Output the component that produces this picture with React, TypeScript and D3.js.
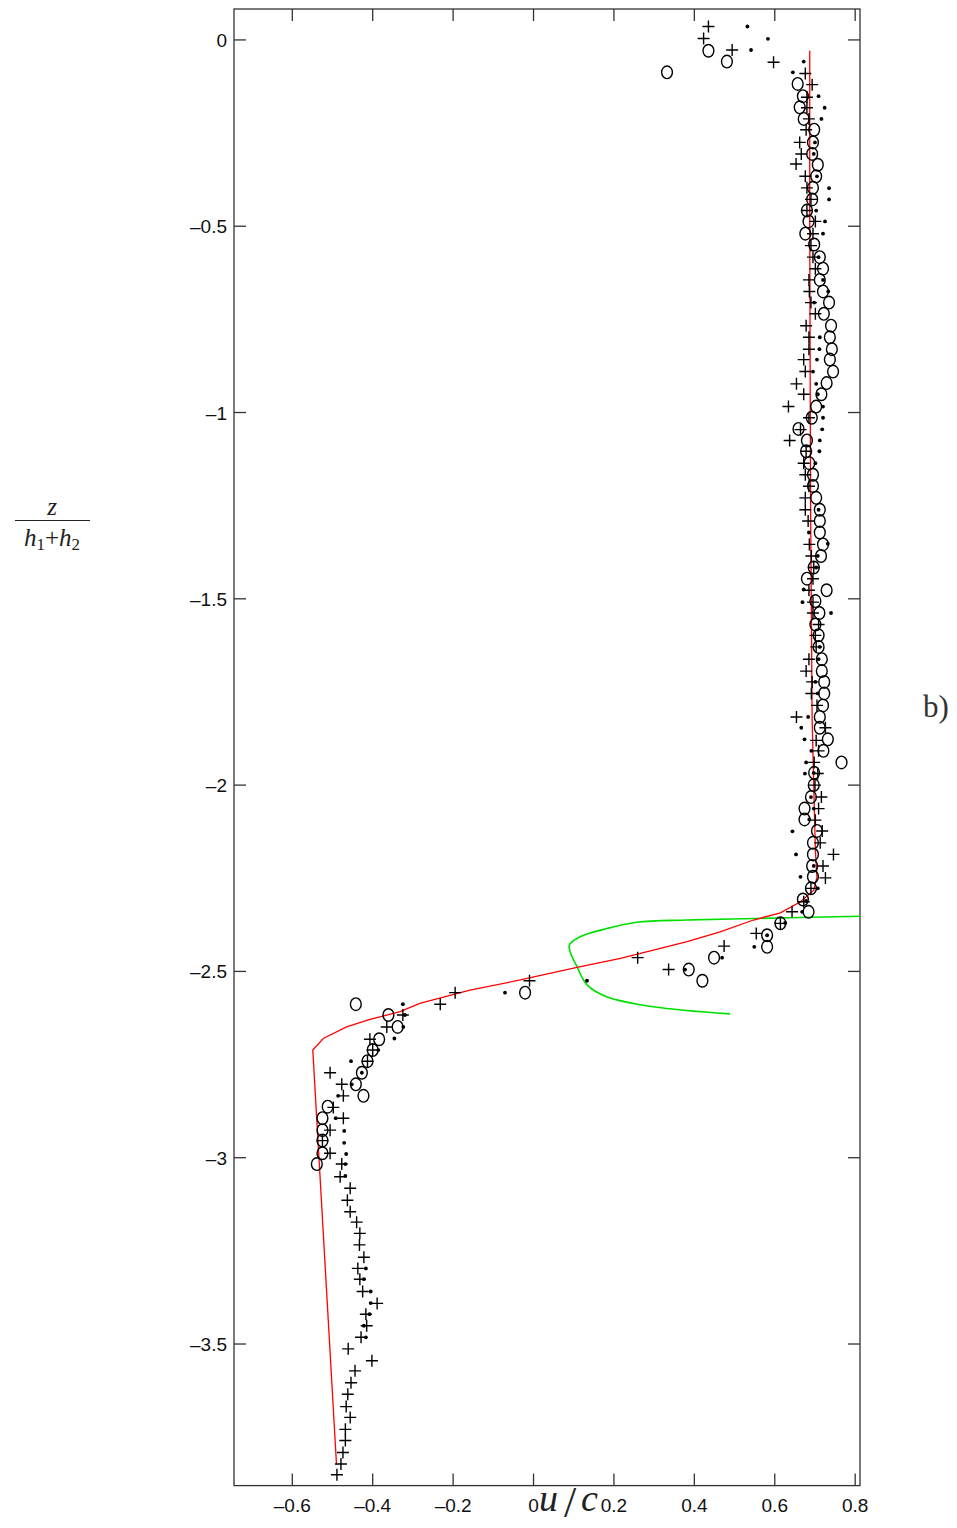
import * as d3 from "d3";

// measured profiles: u/c against z/(h1+h2)
const circles: [number, number][] = [
  [0.435, -0.029], [0.481, -0.058], [0.332, -0.087], [0.657, -0.118], [0.67, -0.151],
  [0.662, -0.181], [0.672, -0.212], [0.698, -0.241], [0.695, -0.275], [0.693, -0.306],
  [0.707, -0.335], [0.703, -0.366], [0.695, -0.397], [0.693, -0.428], [0.68, -0.458],
  [0.684, -0.487], [0.676, -0.52], [0.698, -0.549], [0.712, -0.583], [0.72, -0.614],
  [0.712, -0.644], [0.72, -0.675], [0.735, -0.705], [0.722, -0.735], [0.74, -0.767],
  [0.737, -0.798], [0.742, -0.83], [0.737, -0.858], [0.745, -0.89], [0.729, -0.921],
  [0.716, -0.951], [0.703, -0.984], [0.692, -1.014], [0.659, -1.044], [0.68, -1.075],
  [0.678, -1.104], [0.686, -1.136], [0.695, -1.167], [0.695, -1.197], [0.703, -1.229],
  [0.712, -1.261], [0.712, -1.291], [0.712, -1.322], [0.72, -1.354], [0.715, -1.385],
  [0.697, -1.416], [0.68, -1.446], [0.729, -1.477], [0.701, -1.506], [0.711, -1.538],
  [0.701, -1.569], [0.709, -1.598], [0.709, -1.629], [0.717, -1.662], [0.717, -1.694],
  [0.723, -1.723], [0.723, -1.754], [0.72, -1.786], [0.712, -1.817], [0.712, -1.846],
  [0.732, -1.877], [0.721, -1.908], [0.766, -1.939], [0.698, -1.967], [0.697, -2.0],
  [0.69, -2.032], [0.674, -2.063], [0.674, -2.092], [0.705, -2.123], [0.695, -2.155],
  [0.695, -2.186], [0.693, -2.217], [0.695, -2.246], [0.69, -2.277], [0.67, -2.307],
  [0.684, -2.34], [0.614, -2.371], [0.581, -2.403], [0.581, -2.434], [0.449, -2.463],
  [0.386, -2.495], [0.42, -2.525], [-0.021, -2.557], [-0.442, -2.588], [-0.361, -2.617],
  [-0.338, -2.649], [-0.384, -2.682], [-0.4, -2.711], [-0.413, -2.741], [-0.427, -2.772],
  [-0.442, -2.803], [-0.423, -2.834], [-0.512, -2.863], [-0.525, -2.894], [-0.525, -2.926],
  [-0.525, -2.954], [-0.525, -2.988], [-0.539, -3.017],
];

const pluses: [number, number][] = [
  [0.435, 0.036], [0.423, 0.004], [0.494, -0.027], [0.597, -0.06], [0.676, -0.09],
  [0.693, -0.12], [0.68, -0.154], [0.68, -0.182], [0.685, -0.212], [0.678, -0.241],
  [0.662, -0.275], [0.666, -0.306], [0.653, -0.333], [0.676, -0.366], [0.68, -0.397],
  [0.69, -0.428], [0.68, -0.458], [0.701, -0.487], [0.695, -0.52], [0.69, -0.552],
  [0.695, -0.583], [0.701, -0.614], [0.685, -0.644], [0.686, -0.675], [0.69, -0.705],
  [0.701, -0.735], [0.678, -0.767], [0.685, -0.798], [0.685, -0.83], [0.672, -0.858],
  [0.676, -0.89], [0.654, -0.923], [0.672, -0.951], [0.634, -0.984], [0.685, -1.014],
  [0.664, -1.046], [0.637, -1.075], [0.678, -1.104], [0.672, -1.136], [0.676, -1.167],
  [0.685, -1.198], [0.676, -1.229], [0.676, -1.261], [0.683, -1.291], [0.686, -1.354],
  [0.691, -1.385], [0.697, -1.416], [0.695, -1.446], [0.685, -1.477], [0.695, -1.509],
  [0.695, -1.538], [0.709, -1.569], [0.701, -1.598], [0.703, -1.629], [0.685, -1.662],
  [0.678, -1.694], [0.693, -1.723], [0.691, -1.754], [0.705, -1.786], [0.654, -1.817],
  [0.726, -1.846], [0.703, -1.88], [0.709, -1.908], [0.698, -1.939], [0.707, -1.969],
  [0.7, -2.0], [0.716, -2.032], [0.709, -2.063], [0.701, -2.094], [0.718, -2.123],
  [0.713, -2.155], [0.746, -2.186], [0.72, -2.217], [0.726, -2.249], [0.69, -2.277],
  [0.672, -2.313], [0.643, -2.34], [0.614, -2.371], [0.554, -2.398], [0.474, -2.432],
  [0.336, -2.495], [0.259, -2.463], [-0.01, -2.525], [-0.195, -2.557], [-0.232, -2.588],
  [-0.325, -2.617], [-0.365, -2.649], [-0.407, -2.682], [-0.4, -2.711], [-0.413, -2.741],
  [-0.506, -2.772], [-0.477, -2.803], [-0.473, -2.834], [-0.498, -2.865], [-0.473, -2.894],
  [-0.506, -2.926], [-0.525, -2.954], [-0.506, -2.988], [-0.477, -3.017], [-0.481, -3.051],
  [-0.456, -3.082], [-0.463, -3.114], [-0.456, -3.145], [-0.44, -3.173], [-0.432, -3.203],
  [-0.433, -3.234], [-0.422, -3.267], [-0.437, -3.297], [-0.432, -3.326], [-0.425, -3.359],
  [-0.389, -3.391], [-0.417, -3.42], [-0.415, -3.451], [-0.429, -3.482], [-0.461, -3.513],
  [-0.402, -3.545], [-0.444, -3.572], [-0.454, -3.604], [-0.462, -3.635], [-0.466, -3.668],
  [-0.456, -3.697], [-0.468, -3.729], [-0.468, -3.759], [-0.474, -3.791], [-0.479, -3.822],
  [-0.489, -3.851],
];

const dots: [number, number][] = [
  [0.532, 0.036], [0.583, 0.003], [0.541, -0.027], [0.672, -0.058], [0.645, -0.087],
  [0.709, -0.151], [0.724, -0.182], [0.716, -0.212], [0.7, -0.275], [0.697, -0.306],
  [0.705, -0.366], [0.735, -0.398], [0.735, -0.428], [0.703, -0.458], [0.725, -0.487],
  [0.72, -0.52], [0.709, -0.583], [0.72, -0.644], [0.733, -0.675], [0.698, -0.705],
  [0.712, -0.798], [0.711, -0.83], [0.705, -0.858], [0.695, -0.89], [0.703, -0.923],
  [0.707, -0.951], [0.72, -0.984], [0.72, -1.014], [0.718, -1.045], [0.712, -1.075],
  [0.711, -1.104], [0.701, -1.136], [0.709, -1.261], [0.685, -1.322], [0.732, -1.352],
  [0.707, -1.385], [0.703, -1.416], [0.672, -1.475], [0.669, -1.509], [0.74, -1.538],
  [0.712, -1.629], [0.709, -1.662], [0.701, -1.723], [0.707, -1.754], [0.683, -1.817],
  [0.666, -1.846], [0.674, -1.877], [0.691, -1.908], [0.678, -1.939], [0.697, -1.967],
  [0.675, -1.969], [0.69, -2.032], [0.697, -2.063], [0.686, -2.092], [0.644, -2.124],
  [0.653, -2.186], [0.697, -2.217], [0.664, -2.246], [0.707, -2.277], [0.678, -2.311],
  [0.668, -2.34], [0.626, -2.37], [0.581, -2.403], [0.549, -2.434], [0.469, -2.463],
  [0.377, -2.495], [0.133, -2.525], [-0.071, -2.557], [-0.325, -2.588], [-0.32, -2.617],
  [-0.324, -2.649], [-0.346, -2.68], [-0.386, -2.711], [-0.454, -2.741], [-0.427, -2.772],
  [-0.452, -2.803], [-0.486, -2.834], [-0.492, -2.894], [-0.471, -2.928], [-0.471, -2.96],
  [-0.466, -2.99], [-0.468, -3.017], [-0.468, -3.049], [-0.417, -3.297], [-0.422, -3.326],
  [-0.405, -3.359], [-0.405, -3.39], [-0.408, -3.42], [-0.422, -3.451], [-0.417, -3.482],
];

// model curves
const redModel: [number, number][] = [
  [0.687, -0.029], [0.687, -0.501], [0.689, -1.236], [0.693, -1.826], [0.701, -2.175],
  [0.705, -2.246], [0.697, -2.282], [0.664, -2.313], [0.614, -2.343], [0.547, -2.362],
  [0.464, -2.394], [0.382, -2.42], [0.298, -2.443], [0.216, -2.465], [0.108, -2.489],
  [-0.033, -2.523], [-0.158, -2.55], [-0.283, -2.586], [-0.332, -2.608], [-0.407, -2.629],
  [-0.465, -2.649], [-0.523, -2.68], [-0.549, -2.711], [-0.49, -3.824],
];

const greenModel: [number, number][] = [
  [0.812, -2.352], [0.547, -2.358], [0.382, -2.362], [0.257, -2.368], [0.182, -2.385],
  [0.116, -2.407], [0.089, -2.429], [0.091, -2.447], [0.108, -2.487], [0.133, -2.536],
  [0.182, -2.568], [0.298, -2.595], [0.489, -2.614],
];

const xTicks = [-0.6, -0.4, -0.2, 0, 0.2, 0.4, 0.6, 0.8];
const yTicks = [0, -0.5, -1, -1.5, -2, -2.5, -3, -3.5];

const width = 957;
const height = 1528;
const plot = { left: 234, right: 860, top: 9, bottom: 1485.6 };
const tickLen = 12;

const fmt = (v: number) => (v < 0 ? "\u2013" + String(Math.abs(v)) : String(v));

export default function App() {
  const x = d3.scaleLinear().domain([-0.745, 0.812]).range([plot.left, plot.right]);
  const y = d3.scaleLinear().domain([-3.88, 0.083]).range([plot.bottom, plot.top]);

  const redPath = d3
    .line<[number, number]>()
    .x((d) => x(d[0]))
    .y((d) => y(d[1]))
    .curve(d3.curveLinear)(redModel);
  const greenPath = d3
    .line<[number, number]>()
    .x((d) => x(d[0]))
    .y((d) => y(d[1]))
    .curve(d3.curveCatmullRom.alpha(0.5))(greenModel);

  const tickFont = "'Liberation Sans Narrow', 'Liberation Sans', Arial, sans-serif";
  const serif = "'Liberation Serif', 'DejaVu Serif', serif";

  return (
    <svg
      width={width}
      height={height}
      style={{ position: "absolute", left: 0, top: 0, background: "#fff" }}
    >
      <rect x={0} y={0} width={width} height={height} fill="#fff" />

      {/* frame */}
      <rect
        x={plot.left}
        y={plot.top}
        width={plot.right - plot.left}
        height={plot.bottom - plot.top}
        fill="none"
        stroke="#333"
        strokeWidth={1.3}
      />

      {/* ticks, inward on all sides */}
      {xTicks.map((t) => (
        <g key={"xt" + t} stroke="#333" strokeWidth={1.3}>
          <line x1={x(t)} x2={x(t)} y1={plot.bottom} y2={plot.bottom - tickLen} />
          <line x1={x(t)} x2={x(t)} y1={plot.top} y2={plot.top + tickLen} />
        </g>
      ))}
      {yTicks.map((t) => (
        <g key={"yt" + t} stroke="#333" strokeWidth={1.3}>
          <line x1={plot.left} x2={plot.left + tickLen} y1={y(t)} y2={y(t)} />
          <line x1={plot.right} x2={plot.right - tickLen} y1={y(t)} y2={y(t)} />
        </g>
      ))}

      {/* tick labels */}
      {xTicks.map((t) => (
        <text
          key={"xl" + t}
          x={x(t)}
          y={plot.bottom + 26}
          textAnchor="middle"
          fontFamily={tickFont}
          fontSize={19}
          fill="#111"
        >
          {fmt(t)}
        </text>
      ))}
      {yTicks.map((t) => (
        <text
          key={"yl" + t}
          x={plot.left - 7}
          y={y(t) + 7}
          textAnchor="end"
          fontFamily={tickFont}
          fontSize={19}
          fill="#111"
        >
          {fmt(t)}
        </text>
      ))}

      {/* model lines */}
      <path d={greenPath ?? ""} fill="none" stroke="#00e000" strokeWidth={1.6} />
      <path d={redPath ?? ""} fill="none" stroke="#ff0000" strokeWidth={1.3} />

      {/* measurements */}
      {circles.map((d, i) => (
        <ellipse
          key={"c" + i}
          cx={x(d[0])}
          cy={y(d[1])}
          rx={5.4}
          ry={6.3}
          fill="none"
          stroke="#000"
          strokeWidth={1.4}
        />
      ))}
      {pluses.map((d, i) => (
        <path
          key={"p" + i}
          d={`M${x(d[0]) - 6},${y(d[1])}H${x(d[0]) + 6}M${x(d[0])},${y(d[1]) - 6}V${y(d[1]) + 6}`}
          stroke="#000"
          strokeWidth={1.4}
        />
      ))}
      {dots.map((d, i) => (
        <circle key={"d" + i} cx={x(d[0])} cy={y(d[1])} r={1.9} fill="#000" />
      ))}

      {/* x title u/c */}
      <g fontFamily={serif} fill="#222">
        <text x={539} y={1511} fontStyle="italic" fontSize={38}>u</text>
        <text x={564} y={1517} fontSize={44}>/</text>
        <text x={581} y={1511} fontStyle="italic" fontSize={38}>c</text>
      </g>

      {/* y title z/(h1+h2) */}
      <g fontFamily={serif} fill="#222">
        <text x={52} y={515} textAnchor="middle" fontStyle="italic" fontSize={25}>
          z
        </text>
        <line x1={15} x2={90} y1={520.5} y2={520.5} stroke="#222" strokeWidth={1.2} />
        <text x={52} y={546} textAnchor="middle" fontSize={25}>
          <tspan fontStyle="italic">h</tspan>
          <tspan fontSize={17} dy={4}>1</tspan>
          <tspan dy={-4}>+</tspan>
          <tspan fontStyle="italic">h</tspan>
          <tspan fontSize={17} dy={4}>2</tspan>
        </text>
      </g>

      <text x={936} y={717} textAnchor="middle" fontFamily={serif} fontSize={31} fill="#333">
        b)
      </text>
    </svg>
  );
}
